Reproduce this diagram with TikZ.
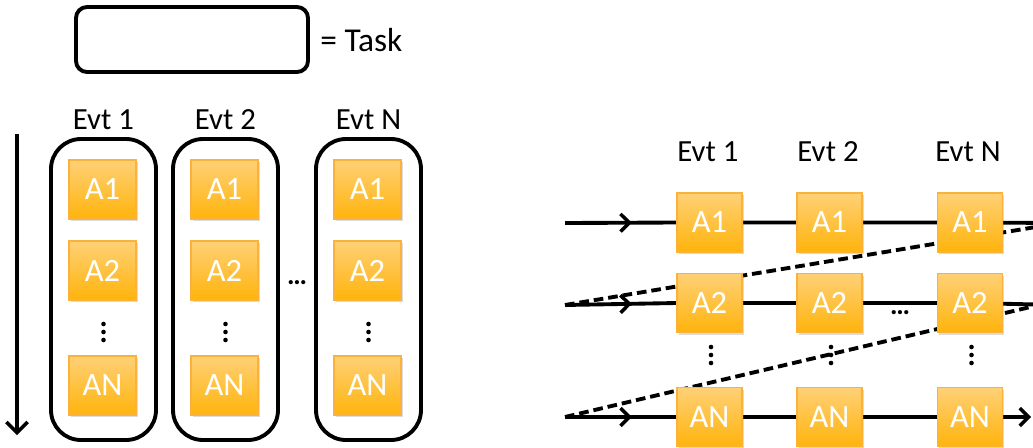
\documentclass[tikz,border=0pt]{standalone}
\usepackage{fontspec}
\setmainfont{Carlito}
\usetikzlibrary{arrows.meta,shadows,decorations.markings}
\pgfdeclarelayer{bg}
\pgfsetlayers{bg,main}
\definecolor{boxtop}{RGB}{255,208,118}
\definecolor{boxbot}{RGB}{255,180,12}
\definecolor{boxrim}{RGB}{250,178,58}
\tikzset{
  task/.style={draw=black, line width=2.2pt, rounded corners=0.22cm, minimum width=232*0.02cm, minimum height=65*0.02cm, inner sep=0pt},
  col/.style={draw=black, line width=2.2pt, rounded corners=0.6cm, minimum width=105*0.02cm, minimum height=301*0.02cm, inner sep=0pt},
  abox/.style={draw=boxrim, line width=0.6pt, top color=boxtop, bottom color=boxbot, text=white,
     minimum height=59*0.02cm, inner sep=0pt, font=\fontsize{18.5}{21}\selectfont,
     drop shadow={shadow xshift=0.9pt, shadow yshift=-1.3pt, opacity=0.28}},
  lbox/.style={abox, minimum width=67*0.02cm},
  rbox/.style={abox, minimum width=65*0.02cm},
  lbl/.style={font=\fontsize{17.5}{21}\selectfont, inner sep=0pt},
  flow/.style={line width=2.2pt},
  midarrow/.style={postaction={decorate}, decoration={markings, mark=at position 38pt with {\arrow{Straight Barb[length=5pt,width=10pt,line width=2pt]}}}},
  dashline/.style={line width=2.2pt, dash pattern=on 5.5pt off 2.8pt},
  dotc/.style={circle, fill=black, inner sep=0pt, minimum size=4.6*0.02cm}
}
\begin{document}
\begin{tikzpicture}[x=0.02cm,y=-0.02cm]
\path[use as bounding box, clip] (0,0) rectangle (1033,447);
% legend
\node[task] (legend) at (192,39.5) {};
\node[lbl, anchor=west, font=\fontsize{19}{22}\selectfont] (legtxt) at (320,40) {= Task};
% left time arrow
\coordinate (ta) at (17,134);
\coordinate (tb) at (17,435);
\draw[flow, -{Straight Barb[length=6pt,width=12pt,line width=2pt]}] (ta) -- (tb);
% left columns
\foreach \n/\x/\t in {1/103.5/Evt 1, 2/225.5/Evt 2, 3/368.5/Evt N}{
  \node[col] (c\n) at (\x,289.5) {};
  \node[lbl] (e\n) at (\x,120) {\t};
  \node[lbox] (l\n a) at (\x-1,189.5) {A1};
  \node[lbox] (l\n b) at (\x-1,270.5) {A2};
  \node[lbox] (l\n n) at (\x-1,385.5) {AN};
  \node[dotc] (l\n d1) at (\x,324) {};
  \node[dotc] (l\n d2) at (\x,332) {};
  \node[dotc] (l\n d3) at (\x,340) {};
}
\node[lbl] (hdl) at (297,283) {\fontsize{16}{16}\selectfont\bfseries …};
% right part
\node[lbl] (re1) at (708,152) {Evt 1};
\node[lbl] (re2) at (828,152) {Evt 2};
\node[lbl] (re3) at (968,152) {Evt N};
\foreach \n/\x in {1/709.5, 2/829.5, 3/970}{
  \node[rbox] (r\n a) at (\x,222.5) {A1};
  \node[rbox] (r\n b) at (\x,303) {A2};
  \node[rbox] (r\n n) at (\x,417) {AN};
  \node[dotc] (r\n d1) at (\x+1.5,347) {};
  \node[dotc] (r\n d2) at (\x+1.5,355) {};
  \node[dotc] (r\n d3) at (\x+1.5,363) {};
}
\node[lbl] (hdr) at (900,313) {\fontsize{16}{16}\selectfont\bfseries …};
\coordinate (s1) at (565,223);
\coordinate (s2) at (565,305);
\coordinate (s3) at (565,417);
\coordinate (e1) at (1060,223);
\coordinate (e2) at (1060,305);
\coordinate (d2) at (1060,300);
\coordinate (e3) at (1031,417);
\begin{pgfonlayer}{bg}
  \draw[dashline] (s2) -- (e1);
  \draw[dashline] (s3) -- (d2);
  \draw[flow, midarrow] (s1) -- (r1a.west);
  \draw[flow] (r1a) -- (r2a) -- (r3a) -- (e1);
  \draw[flow, midarrow] (s2) -- (r1b.west);
  \draw[flow] (r1b) -- (r2b) -- (r3b) -- (e2);
  \draw[flow, midarrow] (s3) -- (r1n.west);
  \draw[flow] (r1n) -- (r2n);
  \draw[flow, -{Straight Barb[length=5pt,width=10pt,line width=2pt]}] (r2n) -- (r3n) -- (e3);
\end{pgfonlayer}
\end{tikzpicture}
\end{document}
